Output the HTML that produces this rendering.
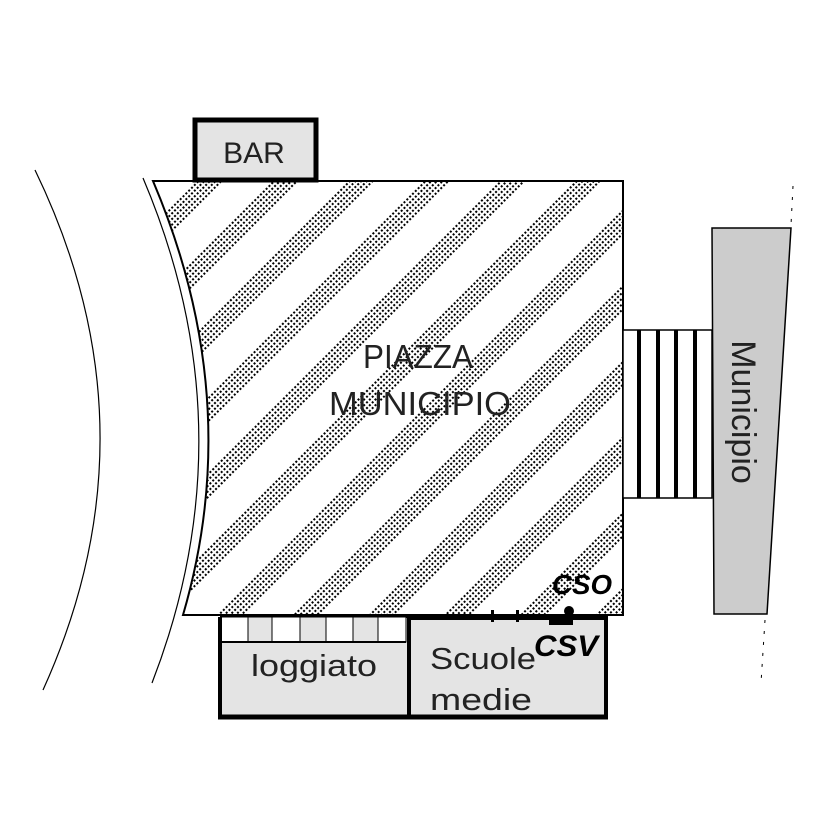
<!DOCTYPE html>
<html><head><style>html,body{margin:0;padding:0;background:#fff}svg{display:block}</style></head><body>
<svg width="827" height="827" viewBox="0 0 827 827" xmlns="http://www.w3.org/2000/svg">
<defs>
<pattern id="dots" width="4" height="4" patternUnits="userSpaceOnUse"><rect width="2" height="2" fill="#000"/></pattern>
<pattern id="stripes" width="53.5" height="60" patternUnits="userSpaceOnUse" patternTransform="rotate(45)">
<rect x="0" y="0" width="20" height="60" fill="url(#dots)"/>
</pattern>
<clipPath id="pz"><path d="M153,181 L623,181 L623,615 L183,615 Q246,400 153,181 Z"/></clipPath>
</defs>
<path d="M35,170 Q161,430 43,690" fill="none" stroke="#000" stroke-width="1.2"/>
<path d="M143,178 Q250,430 152,683" fill="none" stroke="#000" stroke-width="1.2"/>
<g clip-path="url(#pz)"><rect x="140" y="170" width="500" height="460" fill="url(#stripes)"/></g>
<path d="M153,181 L623,181 L623,615 L183,615 Q246,400 153,181 Z" fill="none" stroke="#000" stroke-width="2"/>
<text x="418" y="368" font-family="Liberation Sans,sans-serif" font-size="33" text-anchor="middle" textLength="110" lengthAdjust="spacingAndGlyphs" fill="#222">PIAZZA</text>
<text x="420" y="415" font-family="Liberation Sans,sans-serif" font-size="33" text-anchor="middle" textLength="182" lengthAdjust="spacingAndGlyphs" fill="#222">MUNICIPIO</text>
<rect x="195" y="120" width="121" height="60" fill="#e4e4e4" stroke="#000" stroke-width="5"/>
<text x="254" y="163" font-family="Liberation Sans,sans-serif" font-size="30" text-anchor="middle" fill="#222">BAR</text>
<rect x="623" y="330" width="89" height="168" fill="#fff" stroke="#000" stroke-width="1.5"/>
<rect x="637" y="330" width="4" height="168" fill="#000"/>
<rect x="656" y="330" width="4" height="168" fill="#000"/>
<rect x="674" y="330" width="4" height="168" fill="#000"/>
<rect x="693" y="330" width="4" height="168" fill="#000"/>
<polygon points="712,228 791,228 767,614 714,614" fill="#cccccc" stroke="#000" stroke-width="1.5"/>
<text transform="translate(732,412) rotate(90)" font-family="Liberation Sans,sans-serif" font-size="34" text-anchor="middle" fill="#222">Municipio</text>
<path d="M793,186 L791,225" stroke="#000" stroke-width="1" stroke-dasharray="3,8"/>
<path d="M765,620 L761,683" stroke="#000" stroke-width="1" stroke-dasharray="3,8"/>
<rect x="221" y="617" width="187" height="100" fill="#e4e4e4" stroke="#000" stroke-width="2"/>
<g stroke="#000" stroke-width="1">
<rect x="221" y="617" width="27" height="25" fill="#fff"/>
<rect x="248" y="617" width="24" height="25" fill="#e4e4e4"/>
<rect x="272" y="617" width="28" height="25" fill="#fff"/>
<rect x="300" y="617" width="26" height="25" fill="#e4e4e4"/>
<rect x="326" y="617" width="27" height="25" fill="#fff"/>
<rect x="353" y="617" width="25" height="25" fill="#e4e4e4"/>
<rect x="378" y="617" width="28" height="25" fill="#fff"/>
</g>
<line x1="222" y1="642" x2="406" y2="642" stroke="#000" stroke-width="2"/>
<text x="314" y="676" font-family="Liberation Sans,sans-serif" font-size="31" text-anchor="middle" textLength="126" lengthAdjust="spacingAndGlyphs" fill="#222">loggiato</text>
<rect x="409" y="618" width="197" height="99" fill="#e4e4e4" stroke="#000" stroke-width="4"/>
<line x1="218" y1="717" x2="608" y2="717" stroke="#000" stroke-width="5"/>
<line x1="220" y1="617" x2="220" y2="717" stroke="#000" stroke-width="4"/>
<text x="430" y="669" font-family="Liberation Sans,sans-serif" font-size="31" textLength="106" lengthAdjust="spacingAndGlyphs" fill="#222">Scuole</text>
<text x="430" y="710" font-family="Liberation Sans,sans-serif" font-size="31" textLength="102" lengthAdjust="spacingAndGlyphs" fill="#222">medie</text>
<rect x="491" y="610" width="3" height="12" fill="#000"/>
<rect x="516" y="610" width="3" height="12" fill="#000"/>
<rect x="549" y="617" width="24" height="8" fill="#000"/>
<circle cx="569" cy="611" r="5" fill="#000"/>
<text x="552" y="594" font-family="Liberation Sans,sans-serif" font-size="28" font-weight="bold" font-style="italic" textLength="60" lengthAdjust="spacingAndGlyphs" fill="#000">CSO</text>
<text x="534" y="656" font-family="Liberation Sans,sans-serif" font-size="30" font-weight="bold" font-style="italic" textLength="64" lengthAdjust="spacingAndGlyphs" fill="#000">CSV</text>
</svg>
</body></html>
